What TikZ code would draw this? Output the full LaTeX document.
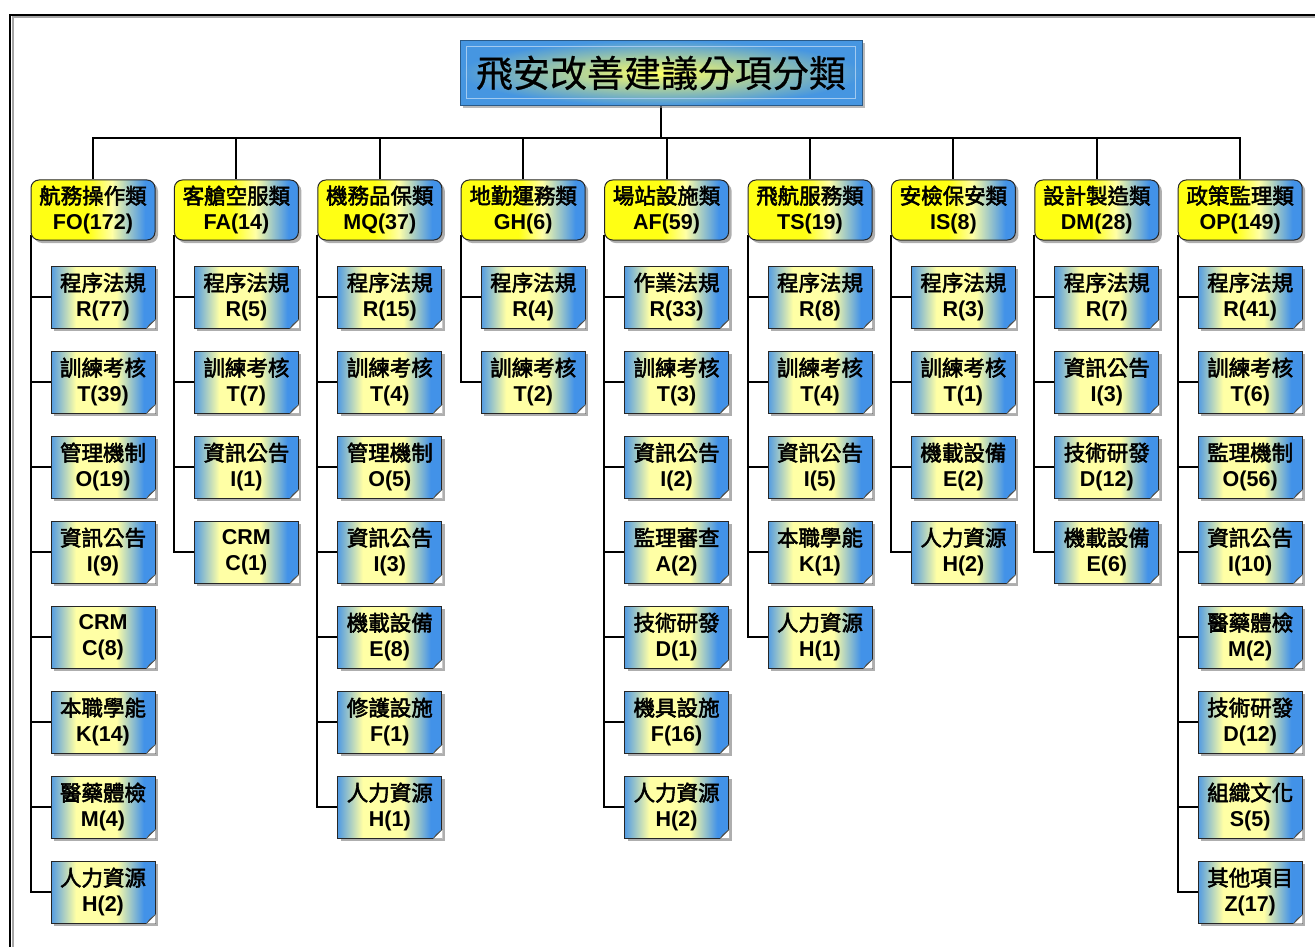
\documentclass[tikz,border=0pt]{standalone}
\usepackage{fontspec}
\setmainfont{Liberation Sans}
\newfontfamily\cjk{Noto Sans CJK TC}[FakeBold=2.4]
\newfontfamily\cjkt{Noto Sans CJK TC}[FakeBold=0.6]
\usetikzlibrary{shadows,backgrounds,calc}
\definecolor{sblue}{RGB}{66,146,232}
\definecolor{syel}{RGB}{255,255,165}
\definecolor{cyel}{RGB}{255,255,20}
\definecolor{tblue}{RGB}{70,150,225}
\pgfdeclarehorizontalshading{childsh}{100bp}{color(0bp)=(sblue); color(38bp)=(sblue); color(44bp)=(syel); color(53bp)=(syel); color(59bp)=(sblue); color(100bp)=(sblue)}
\pgfdeclarehorizontalshading{catsh}{100bp}{color(0bp)=(cyel); color(49bp)=(cyel); color(54bp)=(syel); color(61bp)=(sblue); color(100bp)=(sblue)}
\tikzset{
  lbl/.style={font=\fontsize{21.5}{25}\selectfont, align=center, inner sep=0pt, text=black},
  catbox/.style={lbl, rounded corners=8pt, draw=black!85, line width=1pt,
     minimum width=124pt, minimum height=60pt,
     path picture={\node[draw=none, rotate=-35, shading=catsh, minimum width=170pt, minimum height=170pt, inner sep=0pt] at (path picture bounding box.center) {};},
     drop shadow={shadow xshift=3pt, shadow yshift=-3pt, fill=black!45, opacity=.7}},
  kidbox/.style={lbl, draw=black!85, line width=1pt,
     minimum width=104pt, minimum height=62pt,
     path picture={\node[draw=none, rotate=-45, shading=childsh, minimum width=160pt, minimum height=160pt, inner sep=0pt] at (path picture bounding box.center) {};},
     drop shadow={shadow xshift=3pt, shadow yshift=-3pt, fill=black!45, opacity=.7}},
  conn/.style={line width=2pt, black},
  connsh/.style={line width=2pt, black!30, xshift=2pt, yshift=-2pt},
}
\begin{document}
\begin{tikzpicture}[x=1pt,y=-1pt]
\useasboundingbox (0,0) rectangle (1315,947);
% frame
\draw[line width=2pt, black!35] (12.5,947) -- (12.5,17.5) -- (1315,17.5);
\draw[line width=2.5pt, black] (10,947) -- (10,15) -- (1315,15);

% title
\node[minimum width=402pt, minimum height=65pt, inner sep=0pt, shading=radial, inner color=yellow!60!white, outer color=tblue,
      draw=tblue!60!black, line width=1pt,
      drop shadow={shadow xshift=3pt, shadow yshift=-3pt, fill=black!45, opacity=.6},
      font=\cjkt\fontsize{37}{40}\selectfont] (title) at (661,73) {飛安改善建議分項分類};
\draw[white!50!tblue, line width=1pt] ($(title.north west)+(7,7)$) rectangle ($(title.south east)+(-7,-7)$);
\coordinate (bus) at (0,138);

\foreach \i/\cn/\cc/\kids in {
 0/航務操作類/FO(172)/{程序法規/R(77),訓練考核/T(39),管理機制/O(19),資訊公告/I(9),{}/C(8),本職學能/K(14),醫藥體檢/M(4),人力資源/H(2)},
 1/客艙空服類/FA(14)/{程序法規/R(5),訓練考核/T(7),資訊公告/I(1),{}/C(1)},
 2/機務品保類/MQ(37)/{程序法規/R(15),訓練考核/T(4),管理機制/O(5),資訊公告/I(3),機載設備/E(8),修護設施/F(1),人力資源/H(1)},
 3/地勤運務類/GH(6)/{程序法規/R(4),訓練考核/T(2)},
 4/場站設施類/AF(59)/{作業法規/R(33),訓練考核/T(3),資訊公告/I(2),監理審查/A(2),技術研發/D(1),機具設施/F(16),人力資源/H(2)},
 5/飛航服務類/TS(19)/{程序法規/R(8),訓練考核/T(4),資訊公告/I(5),本職學能/K(1),人力資源/H(1)},
 6/安檢保安類/IS(8)/{程序法規/R(3),訓練考核/T(1),機載設備/E(2),人力資源/H(2)},
 7/設計製造類/DM(28)/{程序法規/R(7),資訊公告/I(3),技術研發/D(12),機載設備/E(6)},
 8/政策監理類/OP(149)/{程序法規/R(41),訓練考核/T(6),監理機制/O(56),資訊公告/I(10),醫藥體檢/M(2),技術研發/D(12),組織文化/S(5),其他項目/Z(17)}}{
  \pgfmathsetmacro{\cx}{93+143.4*\i}
  \node[catbox] (cat\i) at (\cx,210) {{\cjk \cn}\\[1pt]{\bfseries \cc}};
  \begin{pgfonlayer}{background}
    \draw[connsh] (title.south) -- (title.south |- bus) -| (cat\i.north);
    \draw[conn] (title.south) -- (title.south |- bus) -| (cat\i.north);
  \end{pgfonlayer}
  \foreach \kn/\kc [count=\k] in \kids {
    \pgfmathsetmacro{\ky}{297+85*(\k-1)}
    \ifx\kn\empty
      \node[kidbox] (c\i-\k) at (\cx+10,\ky) {{\bfseries CRM}\\[1pt]{\bfseries \kc}};
    \else
      \node[kidbox] (c\i-\k) at (\cx+10,\ky) {{\cjk \kn}\\[1pt]{\bfseries \kc}};
    \fi
    \fill[white] (c\i-\k.south east) -- ++(-9,0) -- ++(9,-9) -- cycle;
    \filldraw[fill=syel!70!sblue, draw=black!70, line width=.6pt] ($(c\i-\k.south east)+(-9,0)$) -- ($(c\i-\k.south east)+(0,-9)$) -- ($(c\i-\k.south east)+(-6,-4)$) -- cycle;
    \begin{pgfonlayer}{background}
      \draw[connsh] ($(cat\i.south west)+(0,-6)$) |- (c\i-\k.west);
      \draw[conn] ($(cat\i.south west)+(0,-6)$) |- (c\i-\k.west);
    \end{pgfonlayer}
  }
}
\end{tikzpicture}
\end{document}
